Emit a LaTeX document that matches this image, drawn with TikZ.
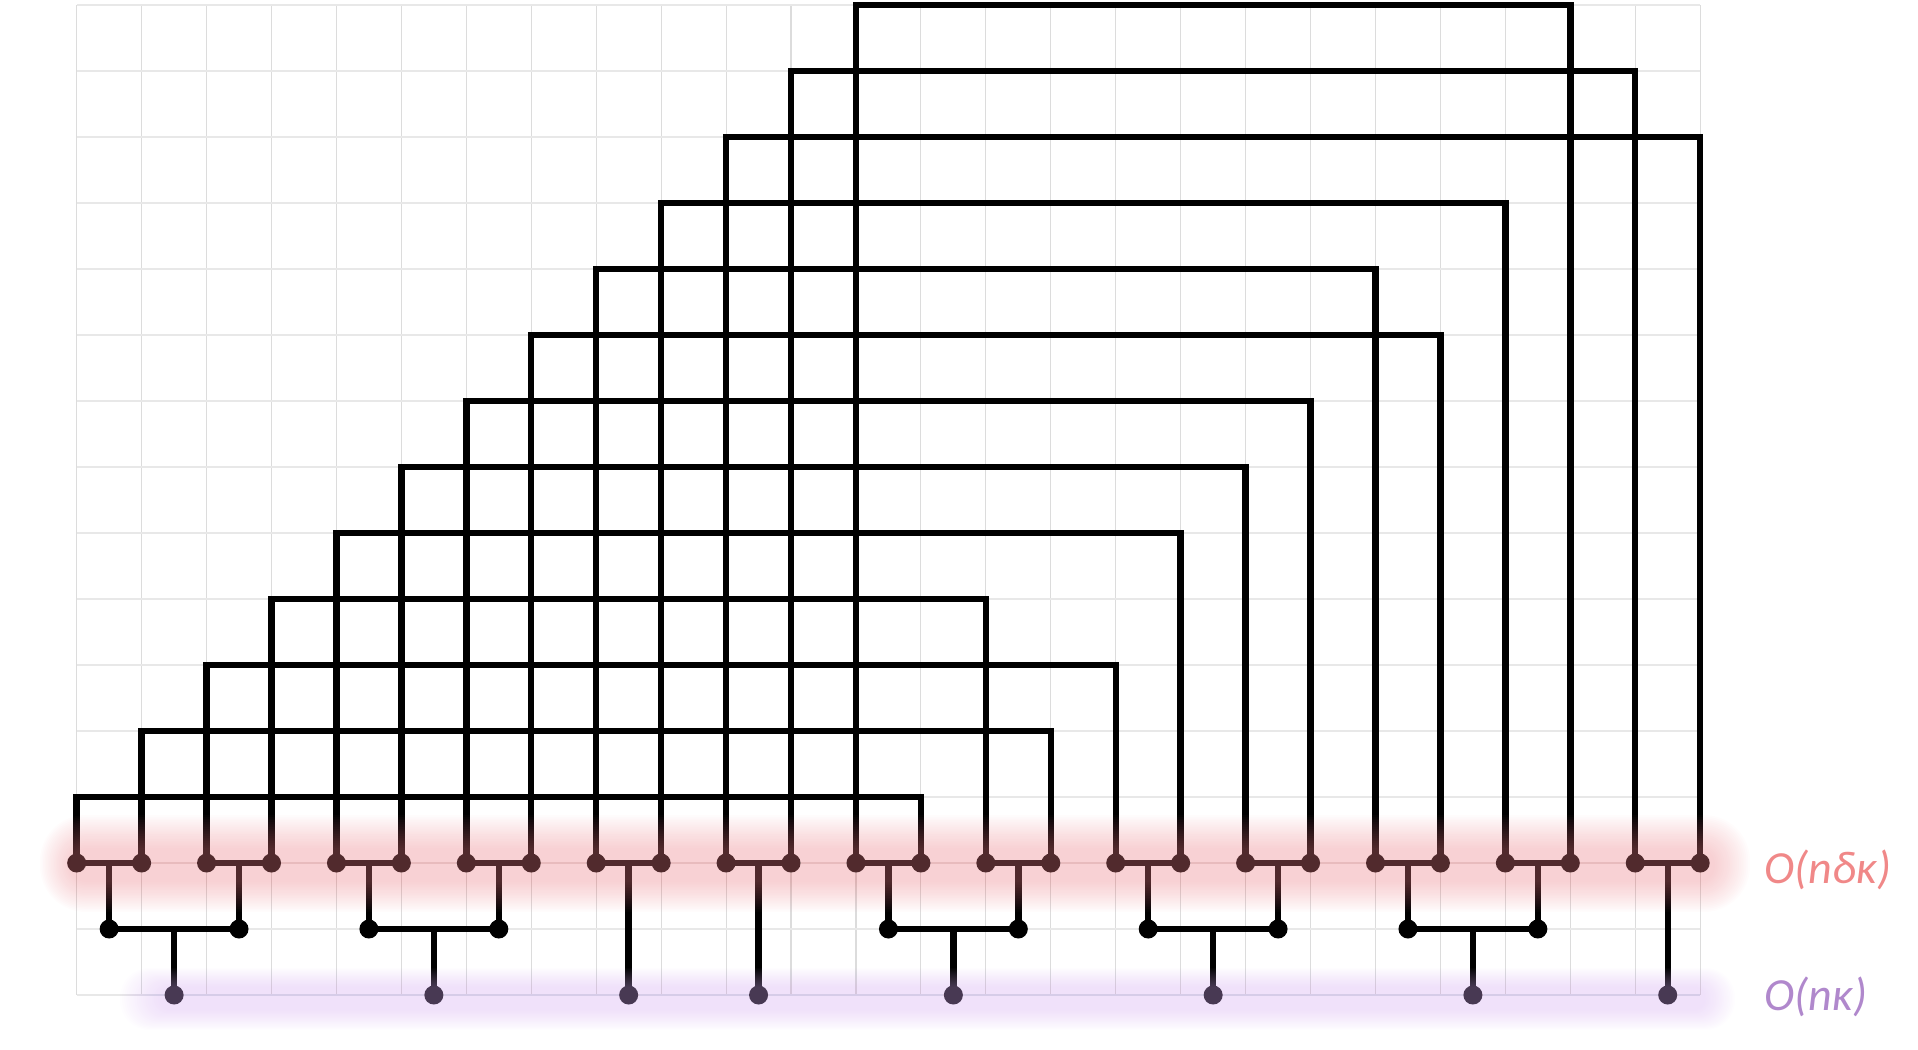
\documentclass[tikz,border=0pt]{standalone}
\usepackage{fontspec}
\newfontfamily\lblfont{Carlito}
\usetikzlibrary{calc}
\definecolor{gridvc}{HTML}{DCDCDC}
\definecolor{gridhc}{HTML}{E8E8E8}
\definecolor{pinklbl}{HTML}{F08888}
\definecolor{purplbl}{HTML}{B088CC}
\definecolor{pinkband}{HTML}{EC858C}
\definecolor{purpband}{HTML}{D6AEF1}
\begin{document}
\begin{tikzpicture}[x=64.94pt,y=-66pt,
  wire/.style={line width=6.4pt,black},
  dotnode/.style={circle,fill=black,draw=none,inner sep=0pt,minimum size=19pt},
  gridvline/.style={line width=1.1pt,gridvc},
  gridhline/.style={line width=1.6pt,gridhc},
  lbl/.style={anchor=base west,inner sep=0pt,font=\lblfont\itshape\fontsize{46}{52}\selectfont}]
\useasboundingbox (-1.181,-0.0758) rectangle (28.354,15.833);
% grid
\foreach \i in {0,...,25} \draw[gridvline] (\i,0) -- (\i,15);
\foreach \j in {0,...,15} \draw[gridhline] (0,\j) -- (25,\j);
% first-level dots
\foreach \i in {0,...,25} \node[dotnode] (t\i) at (\i,13) {};
% arcs
\foreach \a/\b/\r in {0/13/12, 1/15/11, 2/16/10, 3/14/9, 4/17/8, 5/18/7, 6/19/6,
                      7/21/5, 8/20/4, 9/22/3, 10/25/2, 11/24/1, 12/23/0} {
  \draw[wire] (t\a.center) -- ++(0,\r-13) -| (t\b.center);
}
% pair bars
\foreach \k in {0,...,12} {
  \pgfmathtruncatemacro{\pa}{2*\k}
  \pgfmathtruncatemacro{\pb}{2*\k+1}
  \draw[wire] (t\pa.center) -- (t\pb.center);
  \coordinate (p\k) at ($(t\pa.center)!0.5!(t\pb.center)$);
}
% second-level dots
\foreach \k in {0,1,2,3,6,7,8,9,10,11} {
  \node[dotnode] (u\k) at ($(p\k)+(0,1)$) {};
  \draw[wire] (p\k) -- (u\k.center);
}
\foreach \a/\b/\n in {0/1/0, 2/3/1, 6/7/4, 8/9/5, 10/11/6} {
  \draw[wire] (u\a.center) -- (u\b.center);
  \coordinate (q\n) at ($(u\a.center)!0.5!(u\b.center)$);
  \node[dotnode] (b\n) at ($(q\n)+(0,1)$) {};
  \draw[wire] (q\n) -- (b\n.center);
}
\foreach \k/\n in {4/2, 5/3, 12/7} {
  \node[dotnode] (b\n) at ($(p\k)+(0,2)$) {};
  \draw[wire] (p\k) -- (b\n.center);
}
% glowing bands
\foreach \k in {0,...,19} {
  \pgfmathsetmacro{\tt}{\k/19}
  \pgfmathsetmacro{\xa}{-0.565+0.462*\tt}
  \pgfmathsetmacro{\xb}{25.767-0.539*\tt}
  \pgfmathsetmacro{\ya}{12.273+0.5*\tt}
  \pgfmathsetmacro{\yb}{13.742-0.454*\tt}
  \pgfmathsetmacro{\rr}{0.47*(\yb-\ya)*66}
  \fill[pinkband,fill opacity=0.0244,rounded corners=\rr pt] (\xa,\ya) rectangle (\xb,\yb);
  \pgfmathsetmacro{\xc}{0.667+0.616*\tt}
  \pgfmathsetmacro{\xd}{25.536-0.462*\tt}
  \pgfmathsetmacro{\yc}{14.591+0.288*\tt}
  \pgfmathsetmacro{\yd}{15.530-0.303*\tt}
  \pgfmathsetmacro{\rs}{0.47*(\yd-\yc)*66}
  \fill[purpband,fill opacity=0.0228,rounded corners=\rs pt] (\xc,\yc) rectangle (\xd,\yd);
}
% labels
\node[lbl,text=pinklbl] (l1) at (25.99,13.31) {O(nδκ)};
\node[lbl,text=purplbl] (l2) at (25.99,15.235) {O(nκ)};
\end{tikzpicture}
\end{document}
